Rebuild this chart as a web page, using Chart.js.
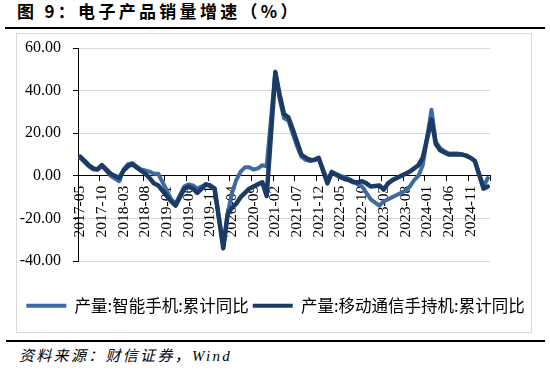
<!DOCTYPE html>
<html>
<head>
<meta charset="utf-8">
<script src="https://cdn.jsdelivr.net/npm/chart.js@4"></script>
<style>
  body { margin: 0; background: #fff; }
  #wrap { position: relative; width: 550px; height: 373px; overflow: hidden; }
  #title { position: absolute; left: 17px; top: 1px; font: bold 17px "Noto Sans CJK SC"; letter-spacing: 3.3px; color: #000; white-space: nowrap; line-height: 20px; }
  #rule1 { position: absolute; left: 5px; top: 27px; width: 540px; height: 2px; background: #000; }
  #frame { position: absolute; left: 16px; top: 33px; width: 514px; height: 298px; border: 1px solid #d9d9d9; }
  #rule2 { position: absolute; left: 6px; top: 340px; width: 539px; height: 2px; background: #000; }
  #source { position: absolute; left: 19px; top: 347px; font: italic 15px "Liberation Serif", "Noto Sans CJK SC"; letter-spacing: 2.3px; color: #000; white-space: nowrap; line-height: 18px; }
</style>
</head>
<body>
<div id="wrap">
  <div id="title">图 9：电子产品销量增速（%）</div>
  <div id="rule1"></div>
  <div id="frame"><canvas id="chart" width="514" height="298"></canvas></div>
  <div id="rule2"></div>
  <div id="source">资料来源：财信证券，Wind</div>
</div>
<script>
// monthly categories, 2017-05 .. 2025-03
var months = [];
(function () {
  var y = 2017, m = 5;
  while (y < 2025 || (y === 2025 && m <= 3)) {
    months.push(y + "-" + (m < 10 ? "0" + m : m));
    m++;
    if (m > 12) { m = 1; y++; }
  }
})();

var yTicks = [-40, -20, 0, 20, 40, 60];

// 产量:智能手机:累计同比 (January has no release)
var smartphone = [
  8.5, 6.5, 4.5, 3, 3, 4.5, 2.5, 0,
  null, -2.5, 3, 5.5, 6, 4.5, 3, 2.5, 2, 1, 1, -3,
  null, -11, -13, -9, -5, -4, -4.5, -6, -5, -4, -5, -6,
  null, -33, -18, -8, -2, 2, 4, 4, 3, 3.5, 5, 4.5,
  null, 49, 36, 27, 26, 20, 14, 9, 7.5, 7, 7.5, 8,
  null, -2, 2, 1, 0, -0.5, -1.5, -2.5, -4, -5, -8, -11,
  null, -14, -12, -11, -10, -9, -8, -7, -5, -2, 0, 5,
  null, 31, 16, 13, 11.5, 10.5, 10.5, 10.5, 10, 9.5, 8.5, 7,
  null, -5, -1
];

// 产量:移动通信手持机:累计同比
var handset = [
  9, 7, 5, 3.5, 3, 5, 3, 1,
  null, -1, 2.5, 4.5, 5.5, 4, 2.5, 1, -1, -3.5, -4.5, -7,
  null, -12, -14, -10, -6, -5, -6, -8, -6, -4, -4.5, -6,
  null, -34, -18, -15, -13, -10, -8, -6, -5, -4, -3, -9.5,
  null, 48.5, 38, 29, 27.5, 22, 16, 10, 8.5, 7.5, 7.5, 8.5,
  null, -3.5, 1.5, 0.5, -0.5, -1.5, -2, -3, -3, -2.5, -3.5, -5,
  null, -4.5, -6.5, -3.5, -2, -1, 0, 1, 2, 3.5, 5, 8.5,
  null, 26.5, 15, 12, 11, 10, 10, 10, 10, 9.5, 8.5, 7,
  null, -6, -5
];

var seriesNames = ["产量:智能手机:累计同比", "产量:移动通信手持机:累计同比"];

var ctx = document.getElementById("chart").getContext("2d");
var chart = new Chart(ctx, {
  type: "line",
  data: {
    labels: months,
    datasets: [
      {
        label: seriesNames[0],
        data: smartphone,
        borderColor: "#3f6aa3",
        backgroundColor: "#3f6aa3",
        borderWidth: 4,
        order: 1
      },
      {
        label: seriesNames[1],
        data: handset,
        borderColor: "#1b3a64",
        backgroundColor: "#1b3a64",
        borderWidth: 4.5,
        order: 0
      }
    ]
  },
  options: {
    responsive: false,
    animation: false,
    spanGaps: true,
    elements: {
      point: { radius: 0, hoverRadius: 0 },
      line: { tension: 0, borderJoinStyle: "round", borderCapStyle: "round" }
    },
    layout: { padding: { top: 14, left: 3, right: 0, bottom: 8 } },
    scales: {
      x: {
        type: "category",
        position: { y: 0 },
        offset: true,
        grid: {
          offset: true,
          drawOnChartArea: false,
          drawTicks: true,
          tickLength: 5,
          tickColor: function (c) {
            return c.index === undefined || c.index % 5 === 0 ? "#000" : "rgba(0,0,0,0)";
          }
        },
        border: { display: true, color: "#000", width: 1 },
        ticks: {
          autoSkip: false,
          minRotation: 90,
          maxRotation: 90,
          padding: 5,
          color: "#000",
          font: { family: "'Liberation Serif'", size: 15.5 },
          callback: function (val, i) {
            return i % 5 === 0 ? this.getLabelForValue(val) : "";
          }
        },
        afterFit: function (s) { s.height = 0; }
      },
      y: {
        min: yTicks[0],
        max: yTicks[yTicks.length - 1],
        afterBuildTicks: function (s) {
          s.ticks = yTicks.map(function (v) { return { value: v }; });
        },
        afterFit: function (s) {
          s.width = 58;
          s.paddingTop = 9;
          s.paddingBottom = 9;
        },
        grid: {
          color: function (c) {
            return c.tick && c.tick.value === 0 ? "#000" : "#d9d9d9";
          },
          tickColor: "#000",
          tickLength: 5
        },
        border: { color: "#000", width: 1 },
        ticks: {
          padding: 12,
          color: "#000",
          font: { family: "'Liberation Serif'", size: 16 },
          callback: function (v) { return v.toFixed(2); }
        }
      },
      y2: {
        position: "right",
        grid: { display: false },
        border: { display: false },
        ticks: { display: false },
        afterFit: function (s) { s.width = 41; }
      }
    },
    plugins: {
      tooltip: { enabled: false },
      legend: {
        position: "bottom",
        title: { display: true, text: "", font: { size: 2 }, padding: { top: 30, bottom: 0 } },
        labels: {
          boxWidth: 40,
          boxHeight: 4,
          padding: 4,
          color: "#000",
          font: { family: "'Noto Sans CJK SC'", size: 16.5 },
          sort: function (a, b) { return a.datasetIndex - b.datasetIndex; },
          generateLabels: function (ch) {
            var items = Chart.defaults.plugins.legend.labels.generateLabels(ch);
            items.forEach(function (it) { it.lineWidth = 0; });
            return items;
          }
        }
      }
    }
  }
});
</script>
</body>
</html>
